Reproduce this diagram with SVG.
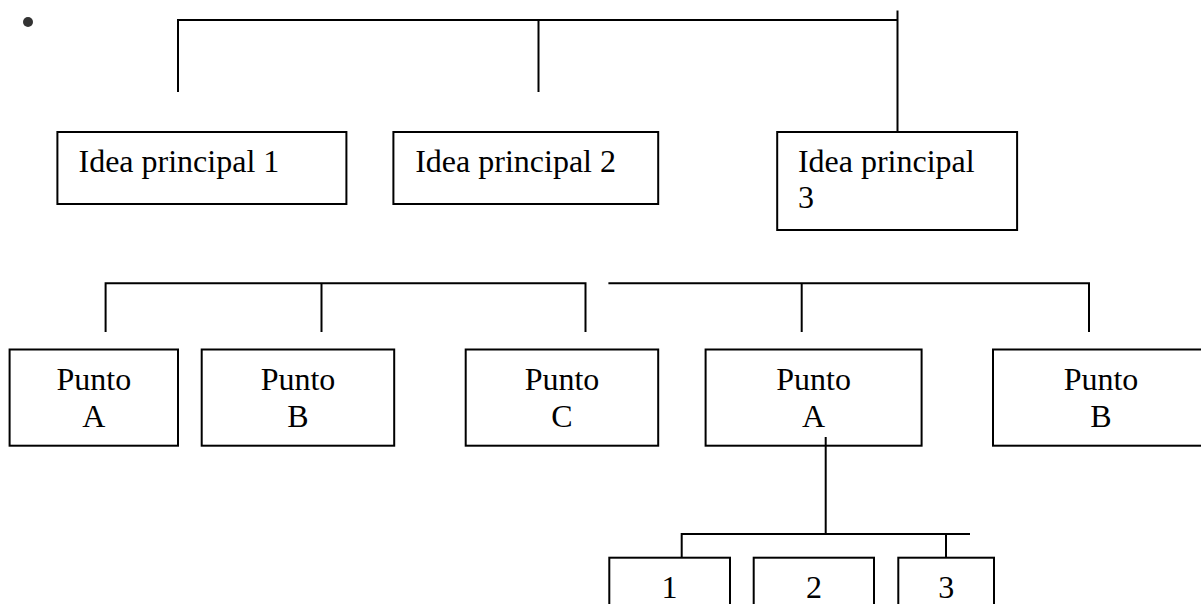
<svg xmlns="http://www.w3.org/2000/svg" width="1201" height="604" viewBox="0 0 1201 604">
<style>
.box{fill:#fff;stroke:#000;stroke-width:2}
.ln{fill:none;stroke:#000;stroke-width:2}
.t{font-family:"Liberation Serif","Times New Roman",serif;font-size:32px;fill:#000}
.c{text-anchor:middle}
</style>
<rect width="1201" height="604" fill="#fff"/>
<circle cx="28" cy="22" r="5" fill="#333"/>
<g id="connectors" class="ln">
<path d="M178 92V20H897"/>
<path d="M538.5 20V92"/>
<path d="M897.5 10.5V132"/>
<path d="M105.6 332V283.3H585.5V332"/>
<path d="M321.5 283.3V332"/>
<path d="M608.4 283.3H1089V332"/>
<path d="M801.7 283.3V332"/>
<path d="M825.7 437V534"/>
<path d="M681.7 557.7V534H970"/>
<path d="M946 534V557.7"/>
</g>
<g id="idea1"><rect class="box" x="57.4" y="132" width="289" height="72"/><text class="t" x="78.5" y="171.7">Idea principal 1</text></g>
<g id="idea2"><rect class="box" x="393.4" y="132" width="264.8" height="72"/><text class="t" x="415.2" y="171.7">Idea principal 2</text></g>
<g id="idea3"><rect class="box" x="777.2" y="132" width="239.9" height="98"/><text class="t" x="797.9" y="171.7">Idea principal</text><text class="t" x="797.9" y="208.3">3</text></g>
<g id="puntoA1"><rect class="box" x="9.6" y="349.5" width="168.4" height="96.2"/><text class="t c" x="93.8" y="390">Punto</text><text class="t c" x="93.8" y="426.7">A</text></g>
<g id="puntoB1"><rect class="box" x="201.7" y="349.5" width="192.5" height="96.2"/><text class="t c" x="298" y="390">Punto</text><text class="t c" x="298" y="426.7">B</text></g>
<g id="puntoC1"><rect class="box" x="465.7" y="349.5" width="192.5" height="96.2"/><text class="t c" x="562" y="390">Punto</text><text class="t c" x="562" y="426.7">C</text></g>
<g id="puntoA2"><rect class="box" x="705.6" y="349.5" width="216" height="96.2"/><text class="t c" x="813.6" y="390">Punto</text><text class="t c" x="813.6" y="426.7">A</text></g>
<g id="puntoB2"><rect class="box" x="993" y="349.5" width="216" height="96.2"/><text class="t c" x="1101" y="390">Punto</text><text class="t c" x="1101" y="426.7">B</text></g>
<path class="ln" d="M825.7 437V446"/>
<g id="n1"><rect class="box" x="609.3" y="557.7" width="120.7" height="70"/><text class="t c" x="669.6" y="598">1</text></g>
<g id="n2"><rect class="box" x="753.7" y="557.7" width="120.3" height="70"/><text class="t c" x="813.9" y="598">2</text></g>
<g id="n3"><rect class="box" x="898.3" y="557.7" width="95.7" height="70"/><text class="t c" x="946.2" y="598">3</text></g>
</svg>
